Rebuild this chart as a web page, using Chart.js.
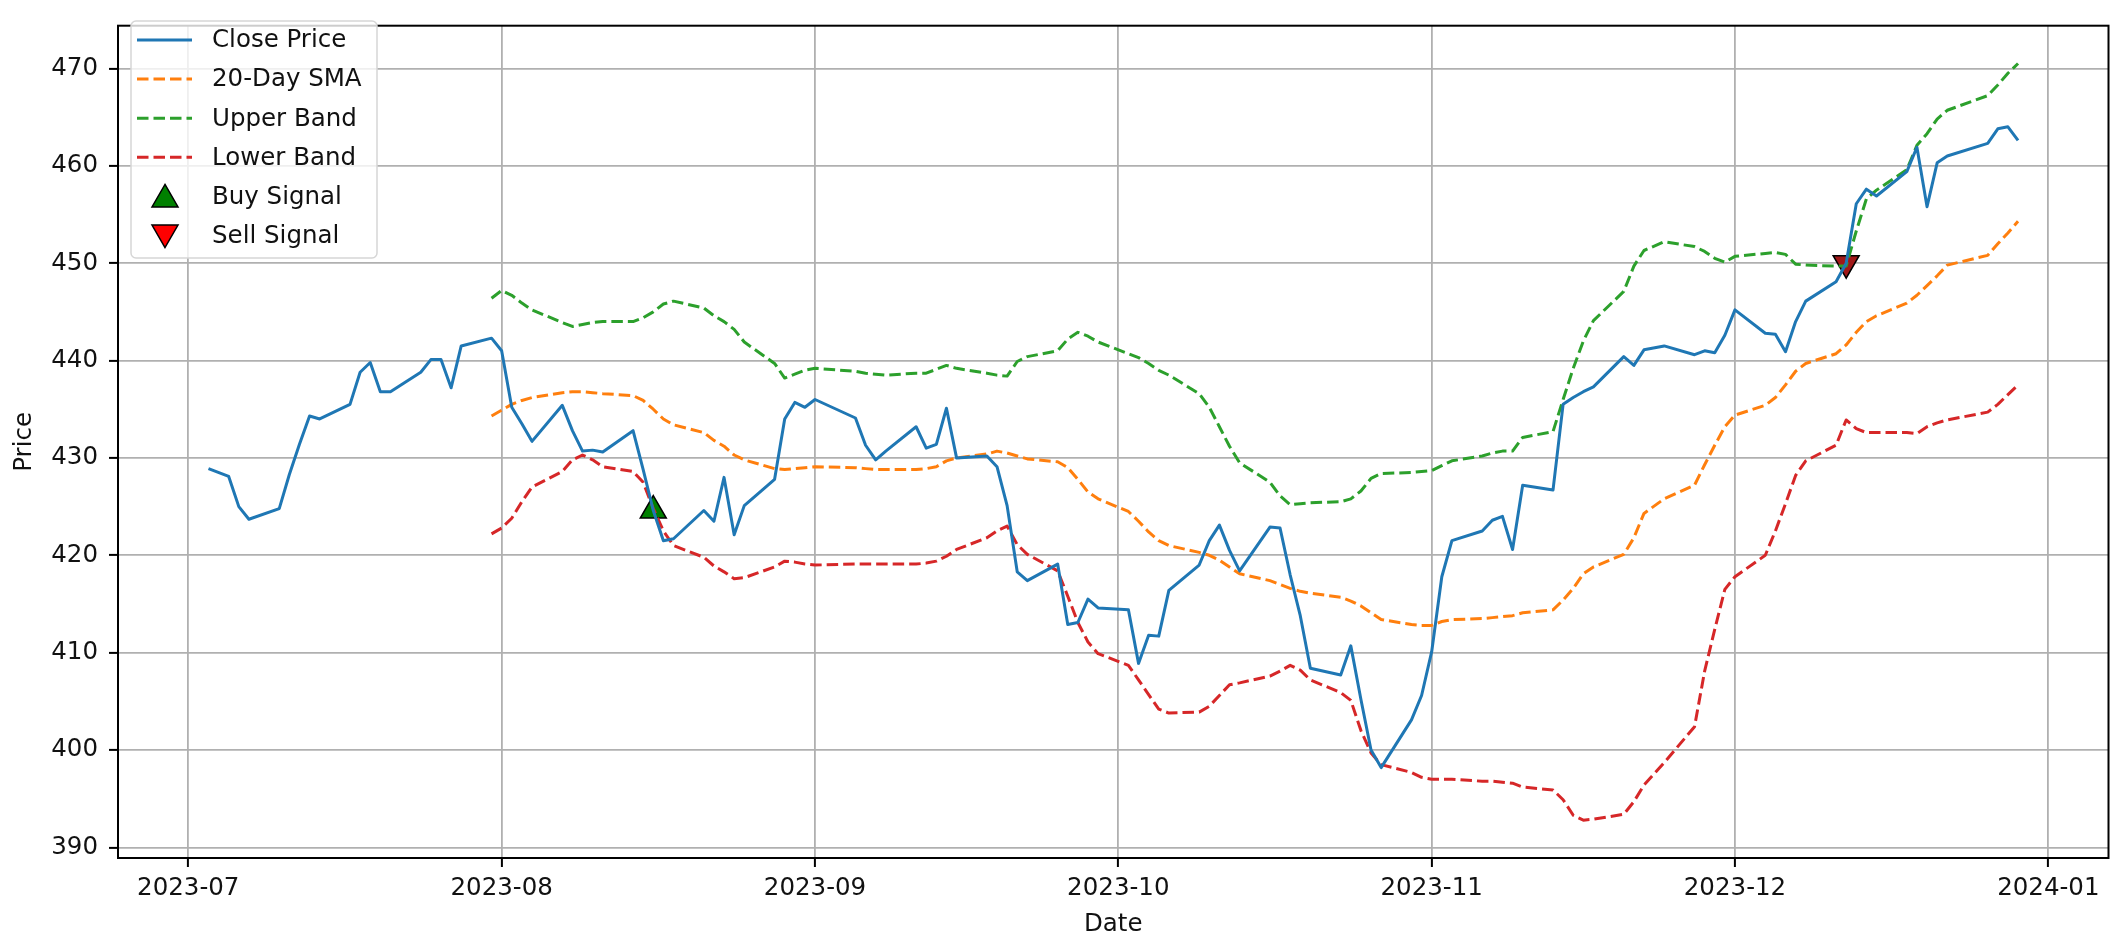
<!DOCTYPE html>
<html>
<head>
<meta charset="utf-8">
<title>Bollinger Bands</title>
<script src="https://cdn.jsdelivr.net/npm/chart.js@4.4.1/dist/chart.umd.min.js"></script>
<style>
  html, body { margin: 0; padding: 0; background: #fff; }
  canvas { display: block; }
</style>
</head>
<body>
<canvas id="bbChart" width="2125" height="939"></canvas>
<script>
// trading days, Jul - Dec 2023
const tradingDays = [
  '2023-07-03','2023-07-05','2023-07-06','2023-07-07','2023-07-10','2023-07-11','2023-07-12','2023-07-13','2023-07-14','2023-07-17',
  '2023-07-18','2023-07-19','2023-07-20','2023-07-21','2023-07-24','2023-07-25','2023-07-26','2023-07-27','2023-07-28','2023-07-31',
  '2023-08-01','2023-08-02','2023-08-03','2023-08-04','2023-08-07','2023-08-08','2023-08-09','2023-08-10','2023-08-11','2023-08-14',
  '2023-08-15','2023-08-16','2023-08-17','2023-08-18','2023-08-21','2023-08-22','2023-08-23','2023-08-24','2023-08-25','2023-08-28',
  '2023-08-29','2023-08-30','2023-08-31',
  '2023-09-01','2023-09-05','2023-09-06','2023-09-07','2023-09-08','2023-09-11','2023-09-12','2023-09-13','2023-09-14','2023-09-15',
  '2023-09-18','2023-09-19','2023-09-20','2023-09-21','2023-09-22','2023-09-25','2023-09-26','2023-09-27','2023-09-28','2023-09-29',
  '2023-10-02','2023-10-03','2023-10-04','2023-10-05','2023-10-06','2023-10-09','2023-10-10','2023-10-11','2023-10-12','2023-10-13',
  '2023-10-16','2023-10-17','2023-10-18','2023-10-19','2023-10-20','2023-10-23','2023-10-24','2023-10-25','2023-10-26','2023-10-27',
  '2023-10-30','2023-10-31',
  '2023-11-01','2023-11-02','2023-11-03','2023-11-06','2023-11-07','2023-11-08','2023-11-09','2023-11-10','2023-11-13','2023-11-14',
  '2023-11-15','2023-11-16','2023-11-17','2023-11-20','2023-11-21','2023-11-22','2023-11-24','2023-11-27','2023-11-28','2023-11-29',
  '2023-11-30',
  '2023-12-01','2023-12-04','2023-12-05','2023-12-06','2023-12-07','2023-12-08','2023-12-11','2023-12-12','2023-12-13','2023-12-14',
  '2023-12-15','2023-12-18','2023-12-19','2023-12-20','2023-12-21','2023-12-22','2023-12-26','2023-12-27','2023-12-28','2023-12-29'
];

const closePrices = [
  428.9, 428.1, 425.0, 423.7, 424.8, 428.3, 431.4, 434.3, 434.0, 435.5, 438.8, 439.8, 436.8, 436.8, 438.8, 440.1, 440.1, 437.2, 441.5, 442.3,
  441.0, 435.2, 433.5, 431.7, 435.4, 432.8, 430.7, 430.8, 430.6, 432.8, 428.8, 424.6, 421.5, 421.7, 424.6, 423.5, 428.0, 422.1, 425.1, 427.8, 434.0, 435.7, 435.2,
  436.0, 434.1, 431.3, 429.8, 430.7, 433.2, 431.0, 431.4, 435.1, 430.0, 430.2, 429.1, 425.1, 418.3, 417.4, 419.1, 412.9, 413.1, 415.5, 414.6,
  414.4, 408.9, 411.8, 411.7, 416.4, 419.0, 421.5, 423.1, 420.5, 418.4, 422.9, 422.8, 418.0, 413.8, 408.4, 407.7, 410.7, 405.2, 400.0, 398.2, 403.1, 405.6,
  410.1, 417.8, 421.5, 422.5, 423.6, 424.0, 420.6, 427.2, 426.7, 435.5, 436.2, 436.8, 437.3, 440.4, 439.5, 441.1, 441.5, 440.6, 441.0, 440.8, 442.6,
  445.2, 442.8, 442.7, 440.9, 444.0, 446.1, 448.1, 450.0, 456.1, 457.6, 456.9, 459.4, 461.9, 455.8, 460.3, 461.0, 462.3, 463.8, 464.0, 462.6
];

// band series start on the 20th trading day (2023-07-31)
const bandStart = 19;

const smaValues = [
  434.3,
  434.9, 435.5, 435.9, 436.2, 436.7, 436.8, 436.8, 436.7, 436.6, 436.4, 435.9, 435.0, 434.0, 433.4, 432.6, 431.8, 431.2, 430.3, 429.8, 428.9, 428.8, 428.9, 429.0,
  429.1, 429.0, 428.9, 428.8, 428.8, 428.8, 428.9, 429.1, 429.7, 430.0, 430.4, 430.7, 430.5, 430.2, 429.9, 429.6, 429.0, 427.8, 426.5, 425.8,
  424.5, 423.5, 422.4, 421.5, 421.0, 420.3, 420.0, 419.5, 418.8, 418.1, 417.4, 417.0, 416.6, 416.3, 416.1, 415.7, 415.3, 414.8, 414.1, 413.4, 412.9, 412.8,
  412.8, 413.2, 413.4, 413.5, 413.6, 413.7, 413.8, 414.1, 414.4, 415.4, 416.6, 418.1, 418.8, 420.1, 421.8, 424.3, 425.8, 427.2, 429.3, 431.3, 433.2,
  434.4, 435.4, 436.2, 437.5, 438.9, 439.7, 440.7, 441.6, 442.9, 444.0, 444.6, 445.9, 446.7, 447.7, 448.7, 449.8, 450.8, 452.0, 453.1, 454.3
];

const upperBand = [
  446.4,
  447.2, 446.7, 445.9, 445.2, 443.9, 443.5, 443.7, 443.9, 444.0, 444.0, 444.4, 445.0, 445.8, 446.1, 445.4, 444.6, 444.0, 443.2, 441.9, 439.7, 438.2, 438.6, 439.0,
  439.2, 438.9, 438.7, 438.6, 438.5, 438.7, 438.7, 439.1, 439.5, 439.2, 438.7, 438.5, 438.4, 439.9, 440.4, 441.0, 442.2, 442.9, 442.5, 441.9,
  440.7, 440.3, 439.7, 439.0, 438.5, 436.6, 435.2, 433.2, 431.2, 429.5, 427.5, 426.1, 425.2, 425.3, 425.4, 425.5, 425.8, 426.6, 427.9, 428.4, 428.5, 428.6,
  428.7, 429.2, 429.7, 430.2, 430.5, 430.7, 430.7, 432.1, 432.7, 436.0, 439.2, 442.0, 444.1, 447.1, 449.7, 451.3, 452.2, 451.7, 451.2, 450.5, 450.1,
  450.7, 451.0, 451.1, 450.9, 449.9, 449.8, 449.7, 449.7, 453.3, 456.6, 457.5, 459.6, 462.1, 463.3, 464.8, 465.7, 467.2, 468.3, 469.5, 470.5
];

const lowerBand = [
  422.2,
  422.8, 423.8, 425.5, 427.0, 428.6, 429.8, 430.3, 429.8, 429.1, 428.6, 427.5, 424.8, 422.5, 421.0, 419.8, 418.9, 418.3, 417.6, 417.7, 418.8, 419.4, 419.3, 419.1,
  419.0, 419.1, 419.1, 419.1, 419.1, 419.1, 419.2, 419.4, 419.9, 420.6, 421.8, 422.5, 423.0, 421.1, 420.1, 418.4, 415.8, 413.1, 411.1, 409.9,
  408.7, 407.2, 405.7, 404.2, 403.8, 403.9, 404.5, 405.6, 406.7, 406.9, 407.6, 408.1, 408.7, 408.2, 407.2, 405.9, 405.1, 402.0, 399.7, 398.5, 397.7, 397.2,
  397.0, 397.0, 397.0, 396.8, 396.8, 396.7, 396.6, 396.2, 395.9, 394.9, 393.3, 392.8, 392.9, 393.4, 394.7, 396.4, 398.7, 402.4, 408.1, 412.4, 416.5,
  417.8, 420.0, 422.5, 425.3, 428.2, 429.7, 431.3, 433.9, 433.0, 432.6, 432.6, 432.6, 432.5, 433.2, 433.6, 433.9, 434.7, 435.5, 436.5, 437.5
];

const buyDates = ['2023-08-16'];
const buyPrices = [424.6];
const sellDates = ['2023-12-12'];
const sellPrices = [450.0];

const monthTicks = ['2023-07-01', '2023-08-01', '2023-09-01', '2023-10-01', '2023-11-01', '2023-12-01', '2024-01-01'];
const priceTicks = [390, 400, 410, 420, 430, 440, 450, 460, 470];

const FONT = { family: 'DejaVu Sans', size: 24.5 };
const TEXT = '#111';
const DASH = [11.5, 5];

function toMs(s) {
  const [y, m, d] = s.split('-').map(Number);
  return Date.UTC(y, m - 1, d);
}
function monthLabel(v) {
  const d = new Date(v);
  return d.getUTCFullYear() + '-' + String(d.getUTCMonth() + 1).padStart(2, '0');
}

const bandDays = tradingDays.slice(bandStart);
const toPoints = (days, vals) => days.map((d, i) => ({ x: toMs(d), y: vals[i] }));

// matplotlib style 5% margins
const x0 = toMs(tradingDays[0]), x1 = toMs(tradingDays[tradingDays.length - 1]);
const allY = closePrices.concat(upperBand, lowerBand);
const y0 = Math.min(...allY), y1 = Math.max(...allY);

const lineBase = { pointRadius: 0, borderJoinStyle: 'round', tension: 0, fill: false };

const datasets = [
  { ...lineBase, label: 'Close Price', data: toPoints(tradingDays, closePrices), borderColor: '#1f77b4', borderWidth: 3, order: 1 },
  { ...lineBase, label: '20-Day SMA', data: toPoints(bandDays, smaValues), borderColor: '#ff7f0e', borderWidth: 3, borderDash: DASH, order: 2 },
  { ...lineBase, label: 'Upper Band', data: toPoints(bandDays, upperBand), borderColor: '#2ca02c', borderWidth: 3, borderDash: DASH, order: 3 },
  { ...lineBase, label: 'Lower Band', data: toPoints(bandDays, lowerBand), borderColor: '#d62728', borderWidth: 3, borderDash: DASH, order: 4 },
  { label: 'Buy Signal', data: toPoints(buyDates, buyPrices), showLine: false, pointStyle: 'triangle', pointRadius: 15,
    pointRotation: 0, backgroundColor: 'green', borderColor: '#000', borderWidth: 1.5, order: 10 },
  { label: 'Sell Signal', data: toPoints(sellDates, sellPrices), showLine: false, pointStyle: 'triangle', pointRadius: 15,
    pointRotation: 180, backgroundColor: '#a01818', borderColor: '#000', borderWidth: 1.5, order: 11 }
];

// axes box like matplotlib spines
const axesFrame = {
  id: 'axesFrame',
  afterDatasetsDraw(chart) {
    const { ctx, chartArea: a } = chart;
    ctx.save();
    ctx.strokeStyle = '#000';
    ctx.lineWidth = 2;
    ctx.strokeRect(a.left, a.top, a.right - a.left, a.bottom - a.top);
    ctx.restore();
  }
};

// legend box in the upper left corner
const cornerLegend = {
  id: 'cornerLegend',
  afterDraw(chart) {
    const { ctx } = chart;
    const box = { x: 131, y: 21, w: 246, h: 237 };
    ctx.save();
    ctx.beginPath();
    ctx.roundRect(box.x, box.y, box.w, box.h, 5);
    ctx.fillStyle = 'rgba(255,255,255,0.8)';
    ctx.fill();
    ctx.strokeStyle = '#d6d6d6';
    ctx.lineWidth = 1.5;
    ctx.stroke();

    ctx.font = FONT.size + 'px ' + FONT.family;
    ctx.textBaseline = 'middle';
    chart.data.datasets.forEach((ds, i) => {
      const y = 40 + i * 39.1;
      if (ds.showLine === false) {
        ctx.fillStyle = ds.label === 'Sell Signal' ? 'red' : ds.backgroundColor;
        ctx.strokeStyle = ds.borderColor;
        ctx.lineWidth = ds.borderWidth;
        Chart.helpers.drawPoint(ctx, { pointStyle: 'triangle', radius: 15, rotation: ds.pointRotation, borderWidth: ds.borderWidth }, 165, y + (ds.pointRotation ? -3 : 3));
      } else {
        ctx.beginPath();
        ctx.setLineDash(ds.borderDash || []);
        ctx.strokeStyle = ds.borderColor;
        ctx.lineWidth = ds.borderWidth;
        ctx.moveTo(137, y);
        ctx.lineTo(192, y);
        ctx.stroke();
        ctx.setLineDash([]);
      }
      ctx.fillStyle = TEXT;
      ctx.fillText(ds.label, 212, y + 1);
    });
    ctx.restore();
  }
};

new Chart(document.getElementById('bbChart'), {
  type: 'line',
  data: { datasets },
  options: {
    responsive: false,
    animation: false,
    devicePixelRatio: 1,
    layout: { padding: { top: 7, right: 7, left: 0, bottom: 0 } },
    plugins: { legend: { display: false }, tooltip: { enabled: false } },
    scales: {
      x: {
        type: 'linear',
        min: x0 - 0.05 * (x1 - x0),
        max: x1 + 0.05 * (x1 - x0),
        afterBuildTicks: s => { s.ticks = monthTicks.map(m => ({ value: toMs(m) })); },
        afterFit: s => { s.height = 81; },
        ticks: { callback: v => monthLabel(v), color: TEXT, font: FONT, padding: 7, maxRotation: 0, autoSkip: false },
        grid: { color: '#b0b0b0', lineWidth: 1.8, tickColor: '#000', tickLength: 9, tickWidth: 2 },
        border: { display: false },
        title: { display: true, text: 'Date', color: TEXT, font: FONT, padding: { top: 0, bottom: 0 } }
      },
      y: {
        type: 'linear',
        min: y0 - 0.05 * (y1 - y0),
        max: y1 + 0.05 * (y1 - y0),
        afterBuildTicks: s => { s.ticks = priceTicks.map(v => ({ value: v })); },
        afterFit: s => { s.width = 118; },
        ticks: { callback: v => String(v), color: TEXT, font: FONT, padding: 11, autoSkip: false },
        grid: { color: '#b0b0b0', lineWidth: 1.8, tickColor: '#000', tickLength: 9, tickWidth: 2 },
        border: { display: false },
        title: { display: true, text: 'Price', color: TEXT, font: FONT, padding: { top: 10, bottom: 0 } }
      }
    }
  },
  plugins: [axesFrame, cornerLegend]
});
</script>
</body>
</html>
